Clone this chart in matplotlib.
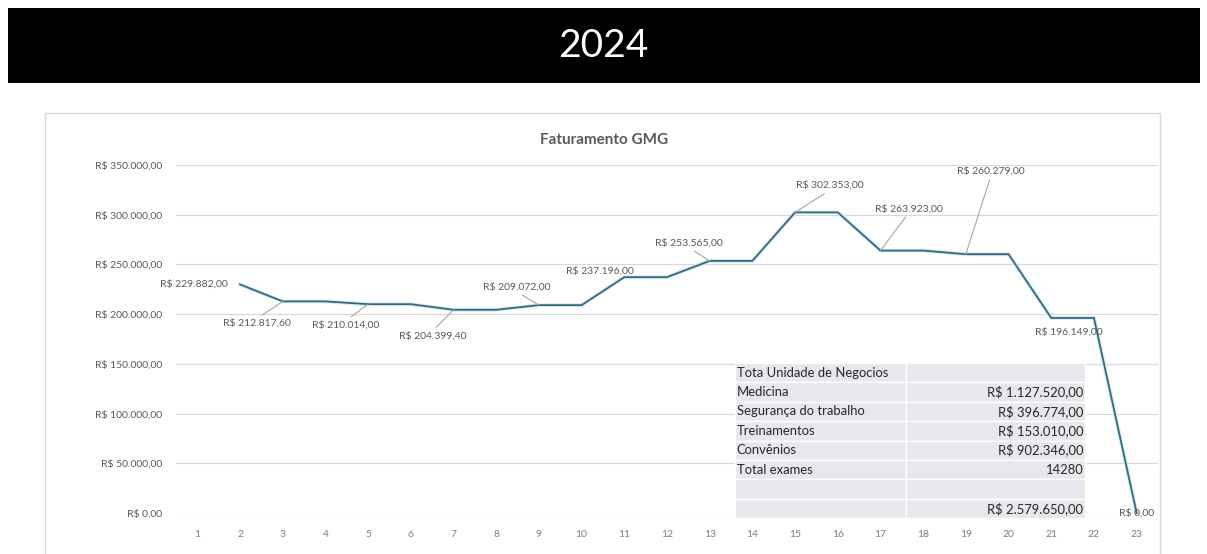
import numpy as np
import matplotlib.pyplot as plt
from matplotlib.patches import Rectangle

plt.rcParams['font.family'] = ['Lato', 'DejaVu Sans']

# =============================================================================
# Data
# =============================================================================
categories = list(range(1, 24))
faturamento = [np.nan, 229882.00, 212817.60, 212817.60, 210014.00, 210014.00,
               204399.40, 204399.40, 209072.00, 209072.00, 237196.00, 237196.00,
               253565.00, 253565.00, 302353.00, 302353.00, 263923.00, 263923.00,
               260279.00, 260279.00, 196149.00, 196149.00, 0.00]

# labelled points: category -> (text offset in pixels, leader?)
label_cats = [2, 3, 5, 7, 9, 11, 13, 15, 17, 19, 21, 23]
label_offsets = [(-46, 0), (-26, -22), (-22, -21), (-21, -26), (-22, 18), (-24, 6),
                 (-21, 18), (35, 27), (28, 42), (25, 83), (18, -14), (0, 0)]
label_leader = [False, True, True, True, True, False, True, True, True, True, False, False]

yticks = [0, 50000, 100000, 150000, 200000, 250000, 300000, 350000]

tabela_nomes = ['Tota Unidade de Negocios', 'Medicina', 'Segurança do trabalho',
                'Treinamentos', 'Convênios', 'Total exames', '', '']
tabela_valores = ['', 'R$ 1.127.520,00', 'R$ 396.774,00', 'R$ 153.010,00',
                  'R$ 902.346,00', '14280', '', 'R$ 2.579.650,00']


def brl(v):
    s = f'{v:,.2f}'
    s = s.replace(',', 'X').replace('.', ',').replace('X', '.')
    return 'R$ ' + s


# =============================================================================
# Figure
# =============================================================================
W, H = 1207, 554
fig = plt.figure(figsize=(W / 100, H / 100), dpi=100)
fig.patch.set_facecolor('white')

# black banner
fig.patches.append(Rectangle((8 / W, 1 - 83 / H), 1192 / W, 75 / H,
                             transform=fig.transFigure, facecolor='black',
                             edgecolor='none', zorder=0))
fig.text(0.5, 1 - 46 / H, '2024', color='white', fontsize=28,
         ha='center', va='center')

# chart box
fig.patches.append(Rectangle((45 / W, -0.02), 1115 / W, 1 - 113 / H + 0.02,
                             transform=fig.transFigure, facecolor='none',
                             edgecolor='#d9d9d9', lw=1, zorder=0))
fig.text(604 / W, 1 - 140 / H, 'Faturamento GMG', color='#595959',
         fontsize=11, fontweight='bold', ha='center', va='center')

ax = fig.add_axes([176 / W, 1 - 513 / H, (1158 - 176) / W, 348 / H])
ax.set_facecolor('none')
ax.plot(categories, faturamento, color='#d5edf3', lw=2.8, solid_joinstyle='miter',
        clip_on=False, zorder=2)
ax.plot(categories, faturamento, color='#336a80', lw=1.3, solid_joinstyle='miter',
        clip_on=False, zorder=3)

ax.set_xlim(0.5, 23.5)
ax.set_ylim(0, 350000)
ax.set_xticks(categories)
ax.set_xticklabels([str(c) for c in categories], fontsize=7.5, color='#7f7f7f')
ax.set_yticks(yticks)
ax.set_yticklabels([brl(v) for v in yticks], fontsize=7.5, color='#595959')
ax.tick_params(axis='both', length=0)
ax.tick_params(axis='y', pad=10)
ax.tick_params(axis='x', pad=12)
ax.grid(axis='y', color='#d9d9d9', lw=0.9)
ax.set_axisbelow(True)
for s in ax.spines.values():
    s.set_visible(False)

# data labels
for c, off, lead in zip(label_cats, label_offsets, label_leader):
    v = faturamento[c - 1]
    props = None
    if lead:
        props = dict(arrowstyle='-', color='#a6a6a6', lw=0.8, shrinkA=1, shrinkB=0,
                     relpos=(0.5, 1) if off[1] < 0 else (0.5, 0))
    ax.annotate(brl(v), xy=(c, v), xytext=off, textcoords='offset pixels',
                ha='center', va='center', fontsize=7.5, color='#595959',
                arrowprops=props, annotation_clip=False, zorder=4)

# summary table
cell_text = [[n, v] for n, v in zip(tabela_nomes, tabela_valores)]
tab = ax.table(cellText=cell_text, colWidths=[171, 179],
               bbox=[(735 - 176) / 982, -5 / 348, 350 / 982, 155 / 348],
               zorder=5)
tab.auto_set_font_size(False)
for (r, col), cell in tab.get_celld().items():
    cell.set_facecolor('#e6e8eb')
    cell.set_edgecolor('white')
    cell.set_linewidth(1)
    cell.get_text().set_fontsize(9.4)
    cell.get_text().set_color('#262626')
    if col == 0:
        cell.get_text().set_ha('left')
        cell.PAD = 0.01
    else:
        cell.get_text().set_ha('right')
        cell.PAD = 0.01

fig.savefig('out.png', dpi=100, facecolor='white')
